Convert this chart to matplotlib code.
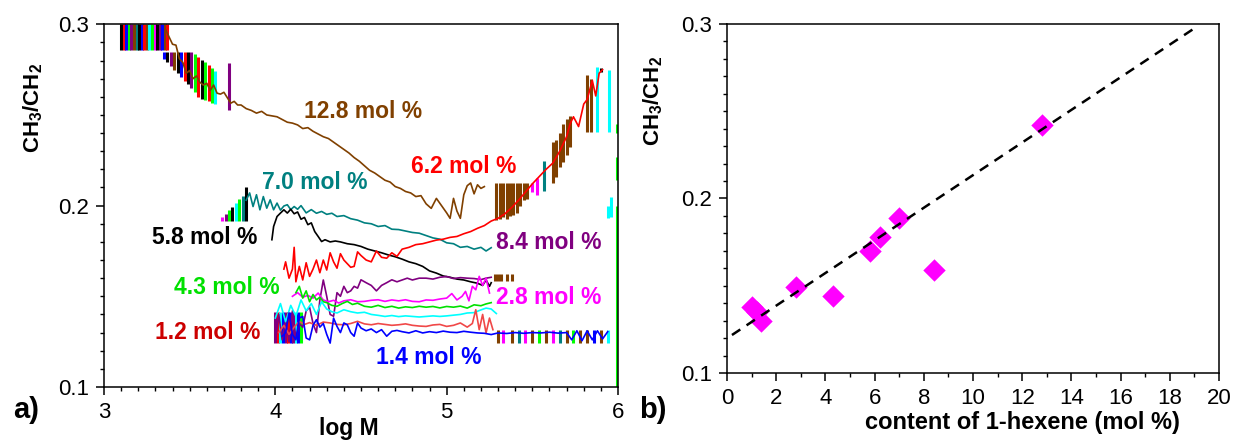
import matplotlib
matplotlib.use("Agg")
import matplotlib.pyplot as plt
from matplotlib.ticker import MultipleLocator

plt.rcParams['font.family'] = ['Liberation Sans', 'DejaVu Sans']
plt.rcParams['mathtext.fontset'] = 'custom'
plt.rcParams['mathtext.rm'] = 'Liberation Sans'
plt.rcParams['mathtext.bf'] = 'Liberation Sans:bold'

# ---- panel a): CH3/CH2 vs log M for each copolymer ----
brown_x = [3.36, 3.38, 3.40, 3.42, 3.44, 3.46, 3.48, 3.50, 3.52, 3.54, 3.56, 3.58, 3.60, 3.62, 3.64,
           3.66, 3.68, 3.70, 3.72, 3.74, 3.76, 3.78, 3.80, 3.83, 3.86, 3.89, 3.92, 3.95, 3.98, 4.01,
           4.04, 4.07, 4.10, 4.13, 4.16, 4.19, 4.22, 4.25, 4.28, 4.31, 4.34, 4.37, 4.40, 4.43, 4.46,
           4.49, 4.52, 4.55, 4.58, 4.61, 4.64, 4.67, 4.70, 4.73, 4.76, 4.79, 4.82, 4.85, 4.88, 4.91,
           4.94, 4.97, 5.00, 5.02, 5.04, 5.06, 5.08, 5.10, 5.12, 5.14, 5.16, 5.18, 5.20, 5.22]
brown_y = [0.2970, 0.2930, 0.2890, 0.2885, 0.2810, 0.2790, 0.2730, 0.2745, 0.2700, 0.2715, 0.2680,
           0.2665, 0.2675, 0.2635, 0.2665, 0.2620, 0.2615, 0.2625, 0.2595, 0.2565, 0.2575, 0.2555,
           0.2555, 0.2535, 0.2525, 0.2510, 0.2520, 0.2500, 0.2495, 0.2490, 0.2475, 0.2460, 0.2455,
           0.2445, 0.2425, 0.2430, 0.2410, 0.2395, 0.2380, 0.2370, 0.2350, 0.2330, 0.2310, 0.2290,
           0.2265, 0.2245, 0.2220, 0.2195, 0.2180, 0.2160, 0.2140, 0.2130, 0.2105, 0.2095, 0.2078,
           0.2070, 0.2050, 0.2055, 0.2010, 0.1985, 0.2040, 0.2000, 0.1960, 0.1930, 0.2040, 0.1970,
           0.1930, 0.2060, 0.2110, 0.2125, 0.2065, 0.2115, 0.2095, 0.2105]

red_x = [4.05, 4.06, 4.08, 4.10, 4.11, 4.12, 4.14, 4.16, 4.18, 4.20, 4.22, 4.24, 4.26, 4.28, 4.30,
         4.32, 4.34, 4.36, 4.38, 4.40, 4.42, 4.44, 4.46, 4.48, 4.50, 4.53, 4.56, 4.59, 4.62, 4.65,
         4.68, 4.71, 4.74, 4.78, 4.82, 4.86, 4.90, 4.94, 4.98, 5.02, 5.06, 5.10, 5.14, 5.18, 5.22,
         5.26, 5.30, 5.34, 5.38, 5.42, 5.46, 5.50, 5.54, 5.58, 5.62, 5.66, 5.70, 5.72, 5.74, 5.77,
         5.80, 5.82, 5.85, 5.87, 5.89, 5.91]
red_y = [0.1650, 0.1690, 0.1600, 0.1650, 0.1770, 0.1580, 0.1665, 0.1590, 0.1685, 0.1610, 0.1650,
         0.1700, 0.1630, 0.1700, 0.1645, 0.1740, 0.1690, 0.1655, 0.1735, 0.1700, 0.1680, 0.1660,
         0.1665, 0.1745, 0.1725, 0.1700, 0.1690, 0.1750, 0.1715, 0.1710, 0.1740, 0.1720, 0.1760,
         0.1770, 0.1785, 0.1790, 0.1800, 0.1810, 0.1815, 0.1825, 0.1830, 0.1845, 0.1857, 0.1875,
         0.1890, 0.1915, 0.1930, 0.1955, 0.1990, 0.2030, 0.2075, 0.2120, 0.2160, 0.2200, 0.2235,
         0.2300, 0.2380, 0.2450, 0.2490, 0.2436, 0.2560, 0.2585, 0.2690, 0.2605, 0.2730, 0.2750]

teal_x = [3.83, 3.85, 3.87, 3.89, 3.91, 3.93, 3.95, 3.97, 3.99, 4.01, 4.03, 4.05, 4.07, 4.09, 4.11,
          4.13, 4.15, 4.18, 4.21, 4.24, 4.27, 4.30, 4.33, 4.36, 4.40, 4.44, 4.48, 4.52, 4.56, 4.60,
          4.64, 4.68, 4.72, 4.76, 4.80, 4.84, 4.88, 4.92, 4.96, 5.00, 5.04, 5.08, 5.12, 5.16, 5.20,
          5.23, 5.26]
teal_y = [0.2030, 0.2070, 0.1995, 0.2060, 0.1977, 0.2050, 0.1986, 0.2032, 0.1977, 0.2014, 0.1975,
          0.1998, 0.2005, 0.1978, 0.1995, 0.1980, 0.2000, 0.1960, 0.1978, 0.1958, 0.1968, 0.1952,
          0.1958, 0.1940, 0.1945, 0.1928, 0.1920, 0.1905, 0.1900, 0.1885, 0.1890, 0.1870, 0.1868,
          0.1860, 0.1852, 0.1848, 0.1835, 0.1822, 0.1815, 0.1795, 0.1790, 0.1770, 0.1775, 0.1760,
          0.1770, 0.1750, 0.1768]

black_x = [3.98, 3.99, 4.01, 4.03, 4.05, 4.07, 4.09, 4.11, 4.13, 4.15, 4.17, 4.19, 4.21, 4.23, 4.25,
           4.27, 4.29, 4.32, 4.35, 4.38, 4.42, 4.46, 4.50, 4.54, 4.58, 4.62, 4.66, 4.70, 4.74, 4.78,
           4.82, 4.86, 4.90, 4.94, 4.98, 5.02, 5.06, 5.10, 5.14, 5.18, 5.21, 5.23, 5.25, 5.26]
black_y = [0.1812, 0.1885, 0.1940, 0.1959, 0.1977, 0.1959, 0.1980, 0.1955, 0.1965, 0.1925, 0.1935,
           0.1895, 0.1905, 0.1857, 0.1830, 0.1802, 0.1812, 0.1800, 0.1805, 0.1800, 0.1790, 0.1785,
           0.1775, 0.1760, 0.1750, 0.1740, 0.1728, 0.1718, 0.1705, 0.1690, 0.1680, 0.1665, 0.1640,
           0.1628, 0.1612, 0.1605, 0.1595, 0.1590, 0.1580, 0.1572, 0.1560, 0.1590, 0.1555, 0.1575]

purple_x = [4.00, 4.02, 4.04, 4.06, 4.08, 4.10, 4.12, 4.14, 4.16, 4.18, 4.20, 4.22, 4.24, 4.26, 4.28,
            4.30, 4.32, 4.34, 4.36, 4.38, 4.40, 4.42, 4.44, 4.46, 4.48, 4.50, 4.53, 4.56, 4.59, 4.62,
            4.65, 4.68, 4.71, 4.74, 4.77, 4.80, 4.84, 4.88, 4.92, 4.96, 5.00, 5.04, 5.08, 5.12, 5.16,
            5.20, 5.23, 5.26]
purple_y = [0.1250, 0.1400, 0.1260, 0.1380, 0.1250, 0.1420, 0.1270, 0.1350, 0.1330, 0.1420, 0.1440,
            0.1350, 0.1300, 0.1480, 0.1590, 0.1500, 0.1400, 0.1390, 0.1520, 0.1500, 0.1555, 0.1520,
            0.1530, 0.1555, 0.1545, 0.1591, 0.1575, 0.1560, 0.1530, 0.1560, 0.1575, 0.1591, 0.1580,
            0.1590, 0.1600, 0.1590, 0.1600, 0.1600, 0.1595, 0.1605, 0.1609, 0.1598, 0.1603, 0.1600,
            0.1598, 0.1592, 0.1600, 0.1605]

magenta_x = [4.10, 4.13, 4.16, 4.19, 4.22, 4.25, 4.28, 4.31, 4.34, 4.37, 4.40, 4.44, 4.48, 4.52,
             4.56, 4.60, 4.64, 4.68, 4.72, 4.76, 4.80, 4.84, 4.88, 4.92, 4.96, 5.00, 5.03, 5.06,
             5.09, 5.11, 5.13, 5.15, 5.17, 5.19, 5.21, 5.23, 5.25]
magenta_y = [0.1500, 0.1520, 0.1495, 0.1505, 0.1490, 0.1518, 0.1480, 0.1470, 0.1478, 0.1463, 0.1475,
             0.1481, 0.1470, 0.1472, 0.1478, 0.1481, 0.1472, 0.1480, 0.1475, 0.1481, 0.1472, 0.1470,
             0.1480, 0.1478, 0.1485, 0.1490, 0.1515, 0.1480, 0.1500, 0.1527, 0.1475, 0.1555, 0.1536,
             0.1610, 0.1560, 0.1600, 0.1518]

green_x = [4.12, 4.14, 4.16, 4.18, 4.20, 4.22, 4.24, 4.26, 4.28, 4.30, 4.33, 4.36, 4.39, 4.42, 4.45,
           4.48, 4.52, 4.56, 4.60, 4.64, 4.68, 4.72, 4.76, 4.80, 4.84, 4.88, 4.92, 4.96, 5.00, 5.04,
           5.08, 5.12, 5.16, 5.20, 5.23, 5.26]
green_y = [0.1520, 0.1555, 0.1490, 0.1530, 0.1470, 0.1510, 0.1480, 0.1495, 0.1470, 0.1465, 0.1450,
           0.1445, 0.1460, 0.1472, 0.1455, 0.1462, 0.1445, 0.1440, 0.1450, 0.1438, 0.1445, 0.1435,
           0.1442, 0.1438, 0.1445, 0.1440, 0.1444, 0.1436, 0.1444, 0.1440, 0.1446, 0.1435, 0.1453,
           0.1448, 0.1458, 0.1465]

cyan_x = [4.00, 4.03, 4.06, 4.09, 4.12, 4.15, 4.18, 4.21, 4.24, 4.27, 4.30, 4.33, 4.36, 4.40, 4.44,
          4.48, 4.52, 4.56, 4.60, 4.64, 4.68, 4.72, 4.76, 4.80, 4.84, 4.88, 4.92, 4.96, 5.00, 5.04,
          5.08, 5.12, 5.16, 5.20, 5.23, 5.26, 5.29]
cyan_y = [0.1380, 0.1460, 0.1360, 0.1450, 0.1390, 0.1480, 0.1420, 0.1460, 0.1400, 0.1470, 0.1430,
          0.1415, 0.1408, 0.1426, 0.1415, 0.1408, 0.1412, 0.1400, 0.1395, 0.1389, 0.1394, 0.1388,
          0.1392, 0.1389, 0.1386, 0.1389, 0.1392, 0.1389, 0.1392, 0.1396, 0.1400, 0.1408, 0.1410,
          0.1425, 0.1435, 0.1430, 0.1405]

salmon_x = [4.02, 4.05, 4.08, 4.11, 4.14, 4.17, 4.20, 4.24, 4.28, 4.32, 4.36, 4.40, 4.44, 4.48, 4.52,
            4.56, 4.60, 4.64, 4.68, 4.72, 4.76, 4.80, 4.84, 4.88, 4.92, 4.96, 5.00, 5.04, 5.08, 5.12,
            5.15, 5.17, 5.19, 5.21, 5.23, 5.25, 5.27]
salmon_y = [0.1300, 0.1340, 0.1290, 0.1330, 0.1362, 0.1345, 0.1355, 0.1340, 0.1358, 0.1353, 0.1345,
            0.1343, 0.1350, 0.1362, 0.1348, 0.1343, 0.1350, 0.1345, 0.1340, 0.1343, 0.1348, 0.1340,
            0.1336, 0.1334, 0.1342, 0.1345, 0.1334, 0.1340, 0.1353, 0.1330, 0.1350, 0.1426, 0.1316,
            0.1400, 0.1298, 0.1380, 0.1316]

blue_x = [4.04, 4.06, 4.08, 4.10, 4.12, 4.14, 4.16, 4.18, 4.20, 4.22, 4.24, 4.26, 4.28, 4.30, 4.32,
          4.34, 4.36, 4.38, 4.40, 4.42, 4.44, 4.46, 4.48, 4.50, 4.53, 4.56, 4.59, 4.62, 4.65, 4.68,
          4.71, 4.74, 4.78, 4.82, 4.86, 4.90, 4.94, 4.98, 5.02, 5.06, 5.10, 5.14, 5.18, 5.22, 5.26,
          5.30, 5.35, 5.40, 5.45, 5.50, 5.55, 5.60, 5.65, 5.70, 5.73, 5.76, 5.79, 5.82, 5.85, 5.88,
          5.91, 5.94]
blue_y = [0.1280, 0.1300, 0.1408, 0.1290, 0.1260, 0.1380, 0.1389, 0.1270, 0.1260, 0.1340, 0.1371,
          0.1330, 0.1350, 0.1290, 0.1242, 0.1380, 0.1334, 0.1300, 0.1353, 0.1343, 0.1300, 0.1280,
          0.1353, 0.1325, 0.1310, 0.1320, 0.1300, 0.1316, 0.1280, 0.1307, 0.1312, 0.1305, 0.1298,
          0.1310, 0.1298, 0.1305, 0.1300, 0.1308, 0.1302, 0.1300, 0.1307, 0.1302, 0.1298, 0.1296,
          0.1289, 0.1298, 0.1295, 0.1300, 0.1296, 0.1300, 0.1298, 0.1302, 0.1297, 0.1300, 0.1260,
          0.1310, 0.1255, 0.1310, 0.1260, 0.1310, 0.1265, 0.1305]

# drawing artefacts of the original (vertical stripes): x, low, high, colour key
stripe_x = [3.10, 3.115, 3.13, 3.145, 3.16, 3.175, 3.19, 3.205, 3.22, 3.235, 3.25, 3.265, 3.28,
            3.295, 3.31, 3.325, 3.34, 3.355, 3.37,
            3.35, 3.37, 3.39, 3.41, 3.43, 3.45, 3.47, 3.49, 3.51, 3.53, 3.55, 3.57, 3.59, 3.61,
            3.63, 3.65, 3.73,
            3.69, 3.71, 3.73, 3.75, 3.77, 3.79, 3.81, 3.83,
            4.00, 4.015, 4.03, 4.045, 4.06, 4.075, 4.09, 4.105, 4.12, 4.135, 4.15,
            5.28, 5.30, 5.32, 5.35, 5.38,
            5.29, 5.31, 5.33, 5.35, 5.37, 5.39, 5.41, 5.43, 5.45, 5.47, 5.50, 5.53, 5.57,
            5.62, 5.64, 5.66, 5.68, 5.70, 5.72, 5.82, 5.84, 5.88, 5.90, 5.95,
            5.30, 5.33, 5.38, 5.42, 5.46, 5.50, 5.54, 5.58, 5.62, 5.66, 5.70, 5.74, 5.78,
            5.82, 5.86, 5.90, 5.94,
            5.995, 5.995, 5.995, 5.94, 5.96]
stripe_lo = [0.2856] * 19 + \
            [0.2810, 0.2790, 0.2770, 0.2750, 0.2730, 0.2710, 0.2690, 0.2670, 0.2650, 0.2625,
             0.2600, 0.2590, 0.2585, 0.2575, 0.2565, 0.2560, 0.2528] + \
            [0.1918] * 8 + \
            [0.1240] * 11 + \
            [0.1585] * 5 + \
            [0.1920, 0.1925, 0.1935, 0.1925, 0.1945, 0.1950, 0.1960, 0.2000, 0.2030, 0.2035,
             0.2075, 0.2060, 0.2080, 0.2125, 0.2160, 0.2215, 0.2240, 0.2280, 0.2326, 0.2405,
             0.2405, 0.2405, 0.2735, 0.2405] + \
            [0.1245] * 17 + \
            [0.1000, 0.2140, 0.2400, 0.1930, 0.1935]
stripe_hi = [0.3000] * 19 + \
            [0.2846, 0.2846, 0.2846, 0.2846, 0.2846, 0.2846, 0.2846, 0.2846, 0.2846, 0.2835,
             0.2820, 0.2805, 0.2790, 0.2775, 0.2760, 0.2745, 0.2785] + \
            [0.1935, 0.1955, 0.1975, 0.1995, 0.2015, 0.2035, 0.2055, 0.2105] + \
            [0.1415] * 11 + \
            [0.1625] * 5 + \
            [0.2125, 0.2125, 0.2125, 0.2125, 0.2125, 0.2125, 0.2125, 0.2125, 0.2125, 0.2125,
             0.2125, 0.2150, 0.2245, 0.2350, 0.2360, 0.2400, 0.2450, 0.2475, 0.2495, 0.2720,
             0.2700, 0.2765, 0.2757, 0.2750] + \
            [0.1315] * 17 + \
            [0.2000, 0.2270, 0.2450, 0.2000, 0.2050]
stripe_c = ['k', 'r', 'b', 'g', 'p', 'w', 't', 'k', 'b', 'r', 'w', 'c', 'g', 'm', 'k', 'p', 'b',
            'w', 'r',
            'b', 'k', 'p', 'w', 'k', 'b', 'r', 'k', 'p', 'g', 'r', 'k', 'g', 'r', 'g', 'c', 'p',
            'm', 'p', 'g', 'k', 'c', 'g', 't', 'k',
            'p', 'r', 'c', 'b', 'p', 'r', 'b', 'p', 'c', 'b', 'g',
            'w', 'w', 'w', 'w', 'w',
            'w', 'w', 'w', 'w', 'w', 'w', 'w', 'w', 'w', 'w', 'm', 'm', 't',
            'w', 'w', 'w', 'w', 'w', 'w', 'w', 'w', 'c', 'k', 'c',
            'w', 'm', 'w', 't', 'm', 'w', 'g', 'w', 'm', 't', 'w', 'g', 'w', 'w', 'b', 'w', 'c',
            'g', 'g', 'g', 'c', 'c']

palette = {'k': 'black', 'r': '#FF0000', 'b': '#0000FF', 'g': '#00FF00', 'p': '#800080',
           'w': '#804000', 't': '#008080', 'c': '#00FFFF', 'm': '#FF00FF'}

curves = [
    (brown_x, brown_y, '#804000'),
    (teal_x, teal_y, '#008080'),
    (black_x, black_y, 'black'),
    (purple_x, purple_y, '#800080'),
    (magenta_x, magenta_y, '#FF00FF'),
    (green_x, green_y, '#00E000'),
    (cyan_x, cyan_y, '#00FFFF'),
    (salmon_x, salmon_y, '#F04848'),
    (blue_x, blue_y, '#0000FF'),
    (red_x, red_y, '#FF0000'),
]

labels = ['12.8 mol %', '6.2 mol %', '7.0 mol %', '5.8 mol %', '8.4 mol %',
          '4.3 mol %', '2.8 mol %', '1.2 mol %', '1.4 mol %']
label_x = [4.17, 4.79, 3.92, 3.28, 5.29, 3.41, 5.29, 3.30, 4.59]
label_y = [0.2517, 0.2214, 0.2126, 0.1822, 0.1795, 0.1548, 0.1492, 0.1300, 0.1162]
label_c = ['#804000', '#FF0000', '#008080', 'black', '#800080', '#00E000', '#FF00FF',
           '#CC0000', '#0000FF']

# ---- panel b): average CH3/CH2 vs comonomer content ----
hexene = [1.0, 1.2, 1.4, 2.8, 4.3, 5.8, 6.2, 7.0, 8.4, 12.8]
ratio = [0.138, 0.135, 0.130, 0.149, 0.144, 0.170, 0.178, 0.189, 0.159, 0.242]
fit_slope = 0.00935
fit_intercept = 0.1199
fit_range = [0.2, 19.0]

fig = plt.figure(figsize=(12.35, 4.4), dpi=100)
ax1 = fig.add_axes([0.0842, 0.1205, 0.4162, 0.8243])
ax2 = fig.add_axes([0.5887, 0.1523, 0.3984, 0.7932])

for x, lo, hi, c in zip(stripe_x, stripe_lo, stripe_hi, stripe_c):
    ax1.vlines(x, lo, hi, colors=palette[c], lw=2.2, zorder=1)
for x, y, c in curves:
    ax1.plot(x, y, color=c, lw=1.2, zorder=2)
for t, x, y, c in zip(labels, label_x, label_y, label_c):
    ax1.text(x, y, t, color=c, fontsize=16.5, fontweight='bold', ha='left', va='center',
             zorder=5, bbox=dict(fc='white', ec='none', pad=0.2))

ratio_label = r'$\mathbf{CH_3/CH_2}$'

ax1.set_xlim(3, 6)
ax1.set_ylim(0.1, 0.3)
ax1.xaxis.set_minor_locator(MultipleLocator(0.1))
ax1.yaxis.set_minor_locator(MultipleLocator(0.01))
ax1.set_xticks([3, 4, 5, 6], ['3', '4', '5', '6'])
ax1.set_yticks([0.1, 0.2, 0.3], ['0.1', '0.2', '0.3'])
ax1.set_xlabel('log M', fontsize=16.5, fontweight='bold')
ax1.xaxis.set_label_coords(0.477, -0.083)
ax1.set_ylabel(ratio_label, fontsize=16)
ax1.yaxis.set_label_coords(-0.115, 0.77)

ax2.scatter(hexene, ratio, marker='D', s=130, color='#FF00FF', zorder=2, linewidths=0)
fx = fit_range
fy = [fit_intercept + fit_slope * v for v in fx]
ax2.plot(fx, fy, color='black', lw=1.8, dashes=(4, 3), zorder=3)
ax2.set_xlim(0, 20)
ax2.set_ylim(0.1, 0.3)
ax2.xaxis.set_major_locator(MultipleLocator(2))
ax2.xaxis.set_minor_locator(MultipleLocator(1))
ax2.yaxis.set_minor_locator(MultipleLocator(0.01))
ax2.set_yticks([0.1, 0.2, 0.3], ['0.1', '0.2', '0.3'])
ax2.set_xlabel('content of 1-hexene (mol %)', fontsize=17, fontweight='bold')
ax2.xaxis.set_label_coords(0.60, -0.11)
ax2.set_ylabel(ratio_label, fontsize=16)
ax2.yaxis.set_label_coords(-0.126, 0.78)

for ax in (ax1, ax2):
    for s in ax.spines.values():
        s.set_linewidth(1.1)
    ax.tick_params(which='major', direction='out', length=6, width=1.1, labelsize=16, pad=5)
    ax.tick_params(which='minor', direction='out', length=3, width=1.0)

fig.text(26 / 1235, 1 - 410 / 440, 'a)', fontsize=21, fontweight='bold', ha='center', va='center')
fig.text(653 / 1235, 1 - 410 / 440, 'b)', fontsize=21, fontweight='bold', ha='center', va='center')

fig.savefig('out.png', dpi=100)
